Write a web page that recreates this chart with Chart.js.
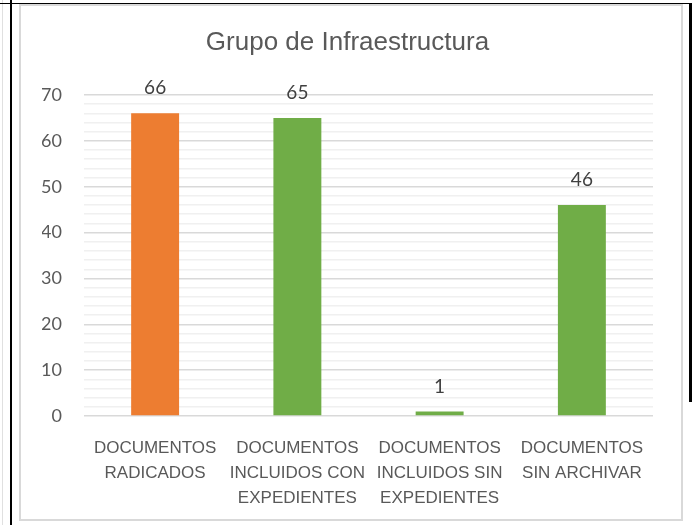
<!DOCTYPE html>
<html>
<head>
<meta charset="utf-8">
<script src="https://cdn.jsdelivr.net/npm/chart.js@4.4.1/dist/chart.umd.min.js"></script>
<style>
  html, body { margin: 0; padding: 0; background: #fff; }
  #wrap { position: relative; width: 695px; height: 525px; overflow: hidden; }
  canvas { position: absolute; left: 0; top: 0; }
  .ln { position: absolute; pointer-events: none; }
</style>
</head>
<body>
<div id="wrap">
  <canvas id="chart" width="695" height="525"></canvas>
  <!-- marco de la hoja -->
  <div class="ln" style="left:2px;top:0;width:1px;height:525px;background:#e0e0e0"></div>
  <div class="ln" style="left:10px;top:0;width:2px;height:525px;background:#000"></div>
  <div class="ln" style="left:0;top:3px;width:691px;height:1px;background:#000"></div>
  <div class="ln" style="left:689px;top:3px;width:3px;height:399px;background:#000"></div>
  <div class="ln" style="left:19px;top:4px;width:660px;height:513px;border:2px solid #d9d9d9"></div>
</div>
<script>
// categorias (eje X) con saltos de linea como en el original
const categories = [
    ['DOCUMENTOS', 'RADICADOS'],
    ['DOCUMENTOS', 'INCLUIDOS CON', 'EXPEDIENTES'],
    ['DOCUMENTOS', 'INCLUIDOS SIN', 'EXPEDIENTES'],
    ['DOCUMENTOS', 'SIN ARCHIVAR']
];
const values = [66, 65, 1, 46];
const yTicks = [0, 10, 20, 30, 40, 50, 60, 70];

// etiquetas de valor encima de cada barra
const valueLabels = {
    id: 'valueLabels',
    afterDatasetsDraw(chart) {
        const ctx = chart.ctx;
        const meta = chart.getDatasetMeta(0);
        ctx.save();
        ctx.font = '19px Lato';
        ctx.fillStyle = '#404040';
        ctx.textAlign = 'center';
        ctx.textBaseline = 'middle';
        meta.data.forEach((bar, i) => {
            ctx.fillText(String(values[i]), bar.x, bar.y - 25);
        });
        ctx.restore();
    }
};

const ctx = document.getElementById('chart').getContext('2d');
new Chart(ctx, {
    type: 'bar',
    data: {
        labels: categories,
        datasets: [{
            data: values,
            backgroundColor: ['#ED7D31', '#70AD47', '#70AD47', '#70AD47'],
            borderWidth: 0,
            categoryPercentage: 1,
            barPercentage: 0.337
        }]
    },
    options: {
        responsive: false,
        animation: false,
        devicePixelRatio: 1,
        layout: { padding: { left: 42, right: 42, top: 0, bottom: 0 } },
        plugins: {
            legend: { display: false },
            tooltip: { enabled: false },
            title: {
                display: true,
                text: 'Grupo de Infraestructura',
                color: '#595959',
                font: { family: 'Liberation Sans', size: 26, weight: 'normal', lineHeight: 1.2 },
                padding: { top: 27.4, bottom: 36.4 }
            }
        },
        scales: {
            x: {
                grid: { display: false },
                border: { display: false },
                ticks: {
                    color: '#595959',
                    font: { family: 'Liberation Sans', size: 17, lineHeight: 25 / 17 },
                    padding: 12,
                    maxRotation: 0,
                    autoSkip: false
                },
                afterFit(scale) { scale.height = 109; }
            },
            y: {
                min: 0,
                max: 70,
                border: { display: false },
                grid: {
                    drawTicks: false,
                    lineWidth: 1.5,
                    color: c => (c.tick && yTicks.includes(c.tick.value)) ? '#d9d9d9' : '#f0f0f0'
                },
                ticks: {
                    stepSize: 2,
                    maxTicksLimit: 100,
                    autoSkip: false,
                    padding: 22,
                    color: '#595959',
                    font: { family: 'Lato', size: 18 },
                    callback: v => yTicks.includes(v) ? String(v) : ''
                },
                afterFit(scale) { scale.width = 42; }
            }
        }
    },
    plugins: [valueLabels]
});
</script>
</body>
</html>
